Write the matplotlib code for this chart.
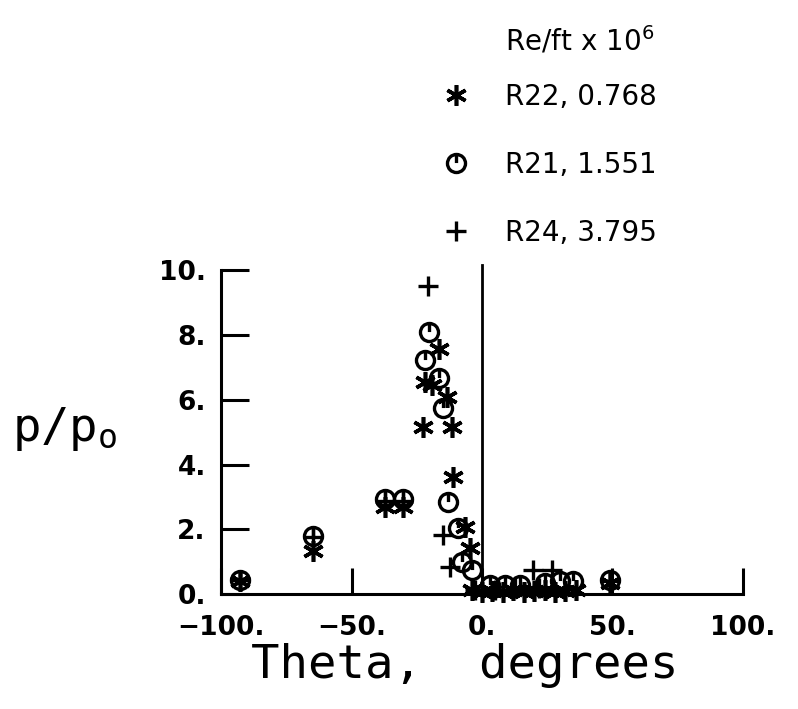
import numpy as np
import matplotlib.pyplot as plt
from matplotlib.path import Path

# data: theta (deg) and p/p0
r22_theta = [-92.7, -64.8, -37.2, -30.3, -16.4, -21.8, -19.3, -13.5, -22.5, -11.6,
             -11.0, -6.5, -4.6, -3.9, 0.0, 4.0, 8.0, 12.0, 16.0, 20.0, 24.0, 28.0, 32.0, 36.0, 49.0]
r22_p = [0.40, 1.34, 2.68, 2.68, 7.58, 6.55, 6.45, 6.09, 5.16, 5.16,
         3.62, 2.08, 1.41, 0.12, 0.08, 0.10, 0.08, 0.12, 0.08, 0.10, 0.12, 0.08, 0.10, 0.12, 0.35]

r21_theta = [-92.7, -64.8, -37.2, -30.3, -20.2, -21.8, -16.4, -14.8, -12.9, -9.1,
             -7.8, -3.9, 3.0, 8.8, 14.6, 24.0, 29.9, 34.9, 49.0]
r21_p = [0.45, 1.80, 2.95, 2.95, 8.10, 7.22, 6.66, 5.73, 2.85, 2.03,
         1.00, 0.74, 0.28, 0.28, 0.28, 0.34, 0.42, 0.42, 0.45]

r24_theta = [-92.7, -64.8, -37.2, -30.3, -20.6, -14.8, -12.3, 19.5, 26.7,
             -2.7, 5.0, 12.6, 22.0, 49.0]
r24_p = [0.45, 1.75, 2.88, 2.88, 9.50, 1.82, 0.84, 0.74, 0.74,
         0.12, 0.12, 0.18, 0.18, 0.40]

xticks = [-100, -50, 0, 50, 100]
xlabels = ['\u2212100.', '\u221250.', '0.', '50.', '100.']
yticks = [0, 2, 4, 6, 8, 10]
ylabels = ['0.', '2.', '4.', '6.', '8.', '10.']
series_labels = ['R22, 0.768', 'R21, 1.551', 'R24, 3.795']

# circle with a small tick from the top down to the centre
circ = Path.make_compound_path(Path.unit_circle(),
                               Path([(0, 1), (0, 0.05)], [Path.MOVETO, Path.LINETO]))

fig = plt.figure(figsize=(7.98, 7.09), dpi=100)
ax = fig.add_axes([0.277, 0.162, 0.654, 0.457])

mk = dict(linestyle='none', color='black', markerfacecolor='none', clip_on=False)
l22, = ax.plot(r22_theta, r22_p, marker=(6, 2, 0), markersize=15, mew=2.6, **mk)
l21, = ax.plot(r21_theta, r21_p, marker=circ, markersize=13, mew=2.4, **mk)
l24, = ax.plot(r24_theta, r24_p, marker='+', markersize=15, mew=2.4, **mk)

# vertical reference line at theta = 0
ax.plot([0, 0], [0, 10.15], color='black', lw=2, clip_on=False)

ax.set_xlim(-100, 100)
ax.set_ylim(0, 10)
ax.spines['top'].set_visible(False)
ax.spines['right'].set_visible(False)
for s in ['left', 'bottom']:
    ax.spines[s].set_linewidth(2.2)

ax.set_xticks(xticks)
ax.set_xticklabels(xlabels)
ax.set_yticks(yticks)
ax.set_yticklabels(ylabels)
ax.tick_params(axis='both', direction='in', width=2.2, labelsize=19)
ax.tick_params(axis='y', length=20, pad=11)
ax.tick_params(axis='x', length=19, pad=15)
for t in ax.get_xticklabels() + ax.get_yticklabels():
    t.set_fontfamily('DejaVu Sans')
    t.set_fontweight('bold')

fig.text(0.583, 0.062, 'Theta,  degrees', fontsize=34, family='DejaVu Sans Mono',
         ha='center', va='center')
fig.text(0.015, 0.395, 'p/p$_\\mathregular{o}$', fontsize=34, family='DejaVu Sans Mono',
         ha='left', va='center')

# legend title and entries
fig.text(0.633, 0.943, 'Re/ft x 10$^\\mathregular{6}$', fontsize=20, family='DejaVu Sans',
         ha='left', va='center')
leg = ax.legend(handles=[l22, l21, l24], labels=series_labels,
                loc='upper left', bbox_to_anchor=(0.537, 0.903),
                bbox_transform=fig.transFigure, frameon=False, borderpad=0,
                handlelength=1.0, handletextpad=1.25, labelspacing=1.45,
                prop={'family': 'DejaVu Sans', 'size': 20})

fig.savefig('out.png', dpi=100)
